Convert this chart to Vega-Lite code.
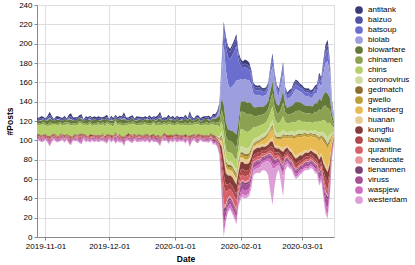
{
"$schema":"https://vega.github.io/schema/vega-lite/v6.json",
"width":297,"height":232,
"padding":{"left":5,"top":1,"right":2,"bottom":0},
"data":{"values":[
{"date":"2019-10-28","antitank":2,"baizuo":1,"batsoup":0,"biolab":0,"biowarfare":2,"chinamen":2,"chins":10,"coronovirus":0,"gedmatch":1,"gweilo":0,"heinsberg":0,"huanan":0,"kungflu":0,"laowai":1,"qurantine":1,"reeducate":0,"tienanmen":1,"viruss":0,"waspjew":1,"westerdam":1},
{"date":"2019-10-29","antitank":1,"baizuo":2,"batsoup":0,"biolab":0,"biowarfare":3,"chinamen":2,"chins":9,"coronovirus":0,"gedmatch":0,"gweilo":0,"heinsberg":0,"huanan":0,"kungflu":1,"laowai":1,"qurantine":1,"reeducate":0,"tienanmen":0,"viruss":1,"waspjew":2,"westerdam":1},
{"date":"2019-10-30","antitank":2,"baizuo":2,"batsoup":0,"biolab":1,"biowarfare":3,"chinamen":1,"chins":11,"coronovirus":0,"gedmatch":1,"gweilo":0,"heinsberg":0,"huanan":0,"kungflu":0,"laowai":1,"qurantine":2,"reeducate":0,"tienanmen":1,"viruss":0,"waspjew":1,"westerdam":1},
{"date":"2019-10-31","antitank":2,"baizuo":1,"batsoup":0,"biolab":0,"biowarfare":2,"chinamen":3,"chins":10,"coronovirus":0,"gedmatch":0,"gweilo":1,"heinsberg":0,"huanan":0,"kungflu":1,"laowai":0,"qurantine":1,"reeducate":1,"tienanmen":0,"viruss":1,"waspjew":2,"westerdam":1},
{"date":"2019-11-01","antitank":1,"baizuo":1,"batsoup":0,"biolab":0,"biowarfare":3,"chinamen":2,"chins":9,"coronovirus":0,"gedmatch":1,"gweilo":0,"heinsberg":0,"huanan":0,"kungflu":0,"laowai":1,"qurantine":1,"reeducate":0,"tienanmen":1,"viruss":0,"waspjew":1,"westerdam":1},
{"date":"2019-11-02","antitank":2,"baizuo":2,"batsoup":0,"biolab":1,"biowarfare":4,"chinamen":2,"chins":10,"coronovirus":0,"gedmatch":0,"gweilo":0,"heinsberg":0,"huanan":0,"kungflu":1,"laowai":1,"qurantine":1,"reeducate":0,"tienanmen":0,"viruss":1,"waspjew":2,"westerdam":1},
{"date":"2019-11-03","antitank":3,"baizuo":3,"batsoup":0,"biolab":1,"biowarfare":4,"chinamen":3,"chins":11,"coronovirus":0,"gedmatch":1,"gweilo":0,"heinsberg":0,"huanan":0,"kungflu":1,"laowai":1,"qurantine":2,"reeducate":0,"tienanmen":1,"viruss":1,"waspjew":3,"westerdam":1},
{"date":"2019-11-04","antitank":2,"baizuo":2,"batsoup":0,"biolab":0,"biowarfare":3,"chinamen":2,"chins":10,"coronovirus":0,"gedmatch":1,"gweilo":0,"heinsberg":0,"huanan":0,"kungflu":0,"laowai":1,"qurantine":1,"reeducate":1,"tienanmen":0,"viruss":1,"waspjew":2,"westerdam":1},
{"date":"2019-11-05","antitank":1,"baizuo":1,"batsoup":0,"biolab":0,"biowarfare":2,"chinamen":2,"chins":9,"coronovirus":0,"gedmatch":0,"gweilo":0,"heinsberg":0,"huanan":0,"kungflu":1,"laowai":1,"qurantine":1,"reeducate":0,"tienanmen":1,"viruss":0,"waspjew":1,"westerdam":1},
{"date":"2019-11-06","antitank":2,"baizuo":2,"batsoup":0,"biolab":0,"biowarfare":3,"chinamen":2,"chins":10,"coronovirus":0,"gedmatch":1,"gweilo":1,"heinsberg":0,"huanan":0,"kungflu":0,"laowai":1,"qurantine":1,"reeducate":0,"tienanmen":0,"viruss":1,"waspjew":2,"westerdam":1},
{"date":"2019-11-07","antitank":2,"baizuo":1,"batsoup":0,"biolab":1,"biowarfare":3,"chinamen":3,"chins":11,"coronovirus":0,"gedmatch":0,"gweilo":0,"heinsberg":0,"huanan":0,"kungflu":1,"laowai":1,"qurantine":1,"reeducate":0,"tienanmen":1,"viruss":0,"waspjew":1,"westerdam":1},
{"date":"2019-11-08","antitank":1,"baizuo":2,"batsoup":0,"biolab":0,"biowarfare":2,"chinamen":2,"chins":10,"coronovirus":0,"gedmatch":1,"gweilo":0,"heinsberg":0,"huanan":0,"kungflu":0,"laowai":1,"qurantine":2,"reeducate":0,"tienanmen":0,"viruss":1,"waspjew":2,"westerdam":1},
{"date":"2019-11-09","antitank":2,"baizuo":1,"batsoup":0,"biolab":0,"biowarfare":3,"chinamen":2,"chins":9,"coronovirus":0,"gedmatch":0,"gweilo":0,"heinsberg":0,"huanan":0,"kungflu":1,"laowai":0,"qurantine":1,"reeducate":0,"tienanmen":1,"viruss":1,"waspjew":1,"westerdam":1},
{"date":"2019-11-10","antitank":2,"baizuo":2,"batsoup":0,"biolab":0,"biowarfare":3,"chinamen":3,"chins":10,"coronovirus":0,"gedmatch":1,"gweilo":0,"heinsberg":0,"huanan":0,"kungflu":1,"laowai":1,"qurantine":1,"reeducate":1,"tienanmen":0,"viruss":0,"waspjew":2,"westerdam":1},
{"date":"2019-11-11","antitank":1,"baizuo":1,"batsoup":0,"biolab":0,"biowarfare":2,"chinamen":2,"chins":10,"coronovirus":0,"gedmatch":0,"gweilo":0,"heinsberg":0,"huanan":0,"kungflu":0,"laowai":1,"qurantine":1,"reeducate":0,"tienanmen":1,"viruss":1,"waspjew":1,"westerdam":1},
{"date":"2019-11-12","antitank":2,"baizuo":2,"batsoup":0,"biolab":1,"biowarfare":3,"chinamen":2,"chins":11,"coronovirus":0,"gedmatch":1,"gweilo":0,"heinsberg":0,"huanan":0,"kungflu":1,"laowai":1,"qurantine":2,"reeducate":0,"tienanmen":0,"viruss":1,"waspjew":2,"westerdam":1},
{"date":"2019-11-13","antitank":3,"baizuo":3,"batsoup":0,"biolab":1,"biowarfare":4,"chinamen":2,"chins":11,"coronovirus":0,"gedmatch":1,"gweilo":0,"heinsberg":0,"huanan":0,"kungflu":1,"laowai":1,"qurantine":1,"reeducate":0,"tienanmen":1,"viruss":1,"waspjew":2,"westerdam":1},
{"date":"2019-11-14","antitank":2,"baizuo":1,"batsoup":0,"biolab":0,"biowarfare":3,"chinamen":2,"chins":10,"coronovirus":0,"gedmatch":0,"gweilo":1,"heinsberg":0,"huanan":0,"kungflu":0,"laowai":1,"qurantine":1,"reeducate":0,"tienanmen":0,"viruss":1,"waspjew":1,"westerdam":1},
{"date":"2019-11-15","antitank":2,"baizuo":2,"batsoup":0,"biolab":0,"biowarfare":2,"chinamen":2,"chins":9,"coronovirus":0,"gedmatch":1,"gweilo":0,"heinsberg":0,"huanan":0,"kungflu":1,"laowai":1,"qurantine":1,"reeducate":0,"tienanmen":1,"viruss":0,"waspjew":2,"westerdam":1},
{"date":"2019-11-16","antitank":1,"baizuo":2,"batsoup":0,"biolab":0,"biowarfare":3,"chinamen":3,"chins":10,"coronovirus":0,"gedmatch":0,"gweilo":0,"heinsberg":0,"huanan":0,"kungflu":0,"laowai":1,"qurantine":1,"reeducate":1,"tienanmen":0,"viruss":1,"waspjew":1,"westerdam":1},
{"date":"2019-11-17","antitank":2,"baizuo":1,"batsoup":0,"biolab":0,"biowarfare":3,"chinamen":2,"chins":11,"coronovirus":0,"gedmatch":1,"gweilo":0,"heinsberg":0,"huanan":0,"kungflu":1,"laowai":1,"qurantine":2,"reeducate":0,"tienanmen":1,"viruss":1,"waspjew":2,"westerdam":1},
{"date":"2019-11-18","antitank":2,"baizuo":2,"batsoup":0,"biolab":1,"biowarfare":3,"chinamen":2,"chins":10,"coronovirus":0,"gedmatch":1,"gweilo":0,"heinsberg":0,"huanan":0,"kungflu":1,"laowai":1,"qurantine":1,"reeducate":0,"tienanmen":1,"viruss":1,"waspjew":4,"westerdam":1},
{"date":"2019-11-19","antitank":1,"baizuo":1,"batsoup":0,"biolab":0,"biowarfare":2,"chinamen":2,"chins":9,"coronovirus":0,"gedmatch":0,"gweilo":0,"heinsberg":0,"huanan":0,"kungflu":0,"laowai":1,"qurantine":1,"reeducate":0,"tienanmen":0,"viruss":1,"waspjew":1,"westerdam":1},
{"date":"2019-11-20","antitank":2,"baizuo":2,"batsoup":0,"biolab":0,"biowarfare":3,"chinamen":2,"chins":10,"coronovirus":0,"gedmatch":1,"gweilo":0,"heinsberg":0,"huanan":0,"kungflu":1,"laowai":1,"qurantine":1,"reeducate":0,"tienanmen":1,"viruss":0,"waspjew":2,"westerdam":1},
{"date":"2019-11-21","antitank":2,"baizuo":1,"batsoup":0,"biolab":0,"biowarfare":3,"chinamen":3,"chins":10,"coronovirus":0,"gedmatch":0,"gweilo":1,"heinsberg":0,"huanan":0,"kungflu":0,"laowai":1,"qurantine":1,"reeducate":0,"tienanmen":0,"viruss":1,"waspjew":1,"westerdam":1},
{"date":"2019-11-22","antitank":1,"baizuo":2,"batsoup":0,"biolab":1,"biowarfare":2,"chinamen":2,"chins":11,"coronovirus":0,"gedmatch":1,"gweilo":0,"heinsberg":0,"huanan":0,"kungflu":1,"laowai":1,"qurantine":2,"reeducate":0,"tienanmen":1,"viruss":0,"waspjew":2,"westerdam":1},
{"date":"2019-11-23","antitank":2,"baizuo":2,"batsoup":0,"biolab":0,"biowarfare":3,"chinamen":2,"chins":9,"coronovirus":0,"gedmatch":0,"gweilo":0,"heinsberg":0,"huanan":0,"kungflu":1,"laowai":0,"qurantine":1,"reeducate":1,"tienanmen":0,"viruss":1,"waspjew":1,"westerdam":1},
{"date":"2019-11-24","antitank":2,"baizuo":1,"batsoup":0,"biolab":0,"biowarfare":4,"chinamen":2,"chins":10,"coronovirus":0,"gedmatch":1,"gweilo":0,"heinsberg":0,"huanan":0,"kungflu":0,"laowai":1,"qurantine":1,"reeducate":0,"tienanmen":1,"viruss":1,"waspjew":2,"westerdam":1},
{"date":"2019-11-25","antitank":1,"baizuo":2,"batsoup":0,"biolab":0,"biowarfare":3,"chinamen":3,"chins":10,"coronovirus":0,"gedmatch":0,"gweilo":0,"heinsberg":0,"huanan":0,"kungflu":1,"laowai":1,"qurantine":1,"reeducate":0,"tienanmen":0,"viruss":1,"waspjew":1,"westerdam":1},
{"date":"2019-11-26","antitank":2,"baizuo":2,"batsoup":0,"biolab":0,"biowarfare":2,"chinamen":2,"chins":11,"coronovirus":0,"gedmatch":1,"gweilo":0,"heinsberg":0,"huanan":0,"kungflu":0,"laowai":1,"qurantine":2,"reeducate":0,"tienanmen":1,"viruss":0,"waspjew":2,"westerdam":1},
{"date":"2019-11-27","antitank":2,"baizuo":1,"batsoup":0,"biolab":1,"biowarfare":3,"chinamen":2,"chins":10,"coronovirus":0,"gedmatch":0,"gweilo":0,"heinsberg":0,"huanan":0,"kungflu":1,"laowai":1,"qurantine":1,"reeducate":0,"tienanmen":0,"viruss":1,"waspjew":1,"westerdam":1},
{"date":"2019-11-28","antitank":1,"baizuo":1,"batsoup":0,"biolab":0,"biowarfare":3,"chinamen":2,"chins":9,"coronovirus":0,"gedmatch":1,"gweilo":1,"heinsberg":0,"huanan":0,"kungflu":0,"laowai":1,"qurantine":1,"reeducate":1,"tienanmen":1,"viruss":0,"waspjew":2,"westerdam":1},
{"date":"2019-11-29","antitank":2,"baizuo":2,"batsoup":0,"biolab":0,"biowarfare":4,"chinamen":3,"chins":10,"coronovirus":0,"gedmatch":0,"gweilo":0,"heinsberg":0,"huanan":0,"kungflu":1,"laowai":1,"qurantine":1,"reeducate":0,"tienanmen":0,"viruss":1,"waspjew":1,"westerdam":1},
{"date":"2019-11-30","antitank":2,"baizuo":2,"batsoup":0,"biolab":0,"biowarfare":3,"chinamen":2,"chins":11,"coronovirus":0,"gedmatch":1,"gweilo":0,"heinsberg":0,"huanan":0,"kungflu":1,"laowai":1,"qurantine":2,"reeducate":0,"tienanmen":1,"viruss":1,"waspjew":2,"westerdam":1},
{"date":"2019-12-01","antitank":1,"baizuo":1,"batsoup":0,"biolab":0,"biowarfare":2,"chinamen":2,"chins":10,"coronovirus":0,"gedmatch":0,"gweilo":0,"heinsberg":0,"huanan":0,"kungflu":0,"laowai":1,"qurantine":1,"reeducate":0,"tienanmen":0,"viruss":1,"waspjew":1,"westerdam":1},
{"date":"2019-12-02","antitank":2,"baizuo":2,"batsoup":0,"biolab":1,"biowarfare":3,"chinamen":2,"chins":10,"coronovirus":0,"gedmatch":1,"gweilo":0,"heinsberg":0,"huanan":0,"kungflu":1,"laowai":1,"qurantine":1,"reeducate":0,"tienanmen":1,"viruss":0,"waspjew":2,"westerdam":1},
{"date":"2019-12-03","antitank":2,"baizuo":1,"batsoup":0,"biolab":0,"biowarfare":3,"chinamen":3,"chins":9,"coronovirus":0,"gedmatch":0,"gweilo":0,"heinsberg":0,"huanan":0,"kungflu":1,"laowai":0,"qurantine":1,"reeducate":0,"tienanmen":0,"viruss":1,"waspjew":1,"westerdam":1},
{"date":"2019-12-04","antitank":1,"baizuo":2,"batsoup":0,"biolab":0,"biowarfare":2,"chinamen":2,"chins":11,"coronovirus":0,"gedmatch":1,"gweilo":0,"heinsberg":0,"huanan":0,"kungflu":0,"laowai":1,"qurantine":2,"reeducate":1,"tienanmen":1,"viruss":1,"waspjew":4,"westerdam":1},
{"date":"2019-12-05","antitank":2,"baizuo":2,"batsoup":0,"biolab":0,"biowarfare":3,"chinamen":2,"chins":10,"coronovirus":0,"gedmatch":0,"gweilo":1,"heinsberg":0,"huanan":0,"kungflu":1,"laowai":1,"qurantine":1,"reeducate":0,"tienanmen":0,"viruss":0,"waspjew":1,"westerdam":1},
{"date":"2019-12-06","antitank":2,"baizuo":1,"batsoup":0,"biolab":0,"biowarfare":4,"chinamen":2,"chins":10,"coronovirus":0,"gedmatch":1,"gweilo":0,"heinsberg":0,"huanan":0,"kungflu":0,"laowai":1,"qurantine":1,"reeducate":0,"tienanmen":1,"viruss":1,"waspjew":3,"westerdam":1},
{"date":"2019-12-07","antitank":1,"baizuo":2,"batsoup":0,"biolab":1,"biowarfare":3,"chinamen":3,"chins":11,"coronovirus":0,"gedmatch":0,"gweilo":0,"heinsberg":0,"huanan":0,"kungflu":1,"laowai":1,"qurantine":1,"reeducate":0,"tienanmen":0,"viruss":1,"waspjew":1,"westerdam":1},
{"date":"2019-12-08","antitank":3,"baizuo":3,"batsoup":0,"biolab":1,"biowarfare":4,"chinamen":3,"chins":11,"coronovirus":0,"gedmatch":1,"gweilo":0,"heinsberg":0,"huanan":0,"kungflu":1,"laowai":1,"qurantine":2,"reeducate":0,"tienanmen":1,"viruss":1,"waspjew":2,"westerdam":1},
{"date":"2019-12-09","antitank":2,"baizuo":1,"batsoup":0,"biolab":0,"biowarfare":3,"chinamen":2,"chins":10,"coronovirus":0,"gedmatch":0,"gweilo":0,"heinsberg":0,"huanan":0,"kungflu":0,"laowai":1,"qurantine":1,"reeducate":0,"tienanmen":1,"viruss":0,"waspjew":2,"westerdam":1},
{"date":"2019-12-10","antitank":1,"baizuo":2,"batsoup":0,"biolab":0,"biowarfare":2,"chinamen":2,"chins":9,"coronovirus":0,"gedmatch":1,"gweilo":0,"heinsberg":0,"huanan":0,"kungflu":1,"laowai":1,"qurantine":1,"reeducate":1,"tienanmen":0,"viruss":1,"waspjew":1,"westerdam":1},
{"date":"2019-12-11","antitank":2,"baizuo":2,"batsoup":0,"biolab":0,"biowarfare":3,"chinamen":2,"chins":10,"coronovirus":0,"gedmatch":0,"gweilo":0,"heinsberg":0,"huanan":0,"kungflu":1,"laowai":1,"qurantine":1,"reeducate":0,"tienanmen":1,"viruss":1,"waspjew":2,"westerdam":1},
{"date":"2019-12-12","antitank":2,"baizuo":1,"batsoup":0,"biolab":0,"biowarfare":3,"chinamen":3,"chins":11,"coronovirus":0,"gedmatch":1,"gweilo":1,"heinsberg":0,"huanan":0,"kungflu":0,"laowai":1,"qurantine":2,"reeducate":0,"tienanmen":0,"viruss":1,"waspjew":2,"westerdam":1},
{"date":"2019-12-13","antitank":1,"baizuo":1,"batsoup":0,"biolab":0,"biowarfare":2,"chinamen":2,"chins":10,"coronovirus":0,"gedmatch":0,"gweilo":0,"heinsberg":0,"huanan":0,"kungflu":1,"laowai":1,"qurantine":1,"reeducate":0,"tienanmen":1,"viruss":0,"waspjew":1,"westerdam":1},
{"date":"2019-12-14","antitank":2,"baizuo":2,"batsoup":0,"biolab":1,"biowarfare":3,"chinamen":2,"chins":10,"coronovirus":0,"gedmatch":1,"gweilo":0,"heinsberg":0,"huanan":0,"kungflu":0,"laowai":1,"qurantine":1,"reeducate":0,"tienanmen":0,"viruss":1,"waspjew":2,"westerdam":1},
{"date":"2019-12-15","antitank":2,"baizuo":1,"batsoup":0,"biolab":0,"biowarfare":4,"chinamen":2,"chins":9,"coronovirus":0,"gedmatch":0,"gweilo":0,"heinsberg":0,"huanan":0,"kungflu":1,"laowai":1,"qurantine":1,"reeducate":1,"tienanmen":1,"viruss":1,"waspjew":1,"westerdam":1},
{"date":"2019-12-16","antitank":1,"baizuo":2,"batsoup":0,"biolab":0,"biowarfare":3,"chinamen":3,"chins":10,"coronovirus":0,"gedmatch":1,"gweilo":0,"heinsberg":0,"huanan":0,"kungflu":1,"laowai":0,"qurantine":1,"reeducate":0,"tienanmen":0,"viruss":1,"waspjew":2,"westerdam":1},
{"date":"2019-12-17","antitank":2,"baizuo":2,"batsoup":0,"biolab":0,"biowarfare":2,"chinamen":2,"chins":11,"coronovirus":0,"gedmatch":0,"gweilo":0,"heinsberg":0,"huanan":0,"kungflu":0,"laowai":1,"qurantine":2,"reeducate":0,"tienanmen":1,"viruss":0,"waspjew":1,"westerdam":1},
{"date":"2019-12-18","antitank":2,"baizuo":1,"batsoup":0,"biolab":0,"biowarfare":3,"chinamen":2,"chins":10,"coronovirus":0,"gedmatch":1,"gweilo":1,"heinsberg":0,"huanan":0,"kungflu":1,"laowai":1,"qurantine":1,"reeducate":0,"tienanmen":0,"viruss":1,"waspjew":2,"westerdam":1},
{"date":"2019-12-19","antitank":1,"baizuo":1,"batsoup":0,"biolab":1,"biowarfare":3,"chinamen":2,"chins":9,"coronovirus":0,"gedmatch":0,"gweilo":0,"heinsberg":0,"huanan":0,"kungflu":1,"laowai":1,"qurantine":1,"reeducate":0,"tienanmen":1,"viruss":1,"waspjew":1,"westerdam":1},
{"date":"2019-12-20","antitank":2,"baizuo":2,"batsoup":0,"biolab":0,"biowarfare":4,"chinamen":3,"chins":10,"coronovirus":0,"gedmatch":1,"gweilo":0,"heinsberg":0,"huanan":0,"kungflu":0,"laowai":1,"qurantine":1,"reeducate":1,"tienanmen":0,"viruss":1,"waspjew":2,"westerdam":1},
{"date":"2019-12-21","antitank":2,"baizuo":1,"batsoup":0,"biolab":0,"biowarfare":3,"chinamen":2,"chins":10,"coronovirus":0,"gedmatch":0,"gweilo":0,"heinsberg":0,"huanan":0,"kungflu":1,"laowai":1,"qurantine":1,"reeducate":0,"tienanmen":1,"viruss":0,"waspjew":1,"westerdam":1},
{"date":"2019-12-22","antitank":1,"baizuo":2,"batsoup":0,"biolab":0,"biowarfare":2,"chinamen":2,"chins":11,"coronovirus":0,"gedmatch":1,"gweilo":0,"heinsberg":0,"huanan":0,"kungflu":1,"laowai":1,"qurantine":2,"reeducate":0,"tienanmen":0,"viruss":1,"waspjew":2,"westerdam":1},
{"date":"2019-12-23","antitank":2,"baizuo":2,"batsoup":0,"biolab":1,"biowarfare":3,"chinamen":2,"chins":10,"coronovirus":0,"gedmatch":0,"gweilo":0,"heinsberg":0,"huanan":0,"kungflu":0,"laowai":1,"qurantine":1,"reeducate":0,"tienanmen":1,"viruss":1,"waspjew":1,"westerdam":1},
{"date":"2019-12-24","antitank":2,"baizuo":2,"batsoup":0,"biolab":0,"biowarfare":3,"chinamen":3,"chins":10,"coronovirus":0,"gedmatch":1,"gweilo":0,"heinsberg":0,"huanan":0,"kungflu":1,"laowai":1,"qurantine":1,"reeducate":0,"tienanmen":1,"viruss":1,"waspjew":2,"westerdam":1},
{"date":"2019-12-25","antitank":3,"baizuo":3,"batsoup":0,"biolab":1,"biowarfare":4,"chinamen":3,"chins":11,"coronovirus":0,"gedmatch":1,"gweilo":1,"heinsberg":0,"huanan":0,"kungflu":1,"laowai":1,"qurantine":2,"reeducate":0,"tienanmen":1,"viruss":1,"waspjew":2,"westerdam":1},
{"date":"2019-12-26","antitank":2,"baizuo":1,"batsoup":0,"biolab":0,"biowarfare":3,"chinamen":2,"chins":10,"coronovirus":0,"gedmatch":0,"gweilo":0,"heinsberg":0,"huanan":0,"kungflu":0,"laowai":1,"qurantine":1,"reeducate":0,"tienanmen":0,"viruss":1,"waspjew":1,"westerdam":1},
{"date":"2019-12-27","antitank":1,"baizuo":2,"batsoup":0,"biolab":0,"biowarfare":2,"chinamen":2,"chins":9,"coronovirus":0,"gedmatch":1,"gweilo":0,"heinsberg":0,"huanan":0,"kungflu":1,"laowai":1,"qurantine":1,"reeducate":1,"tienanmen":1,"viruss":0,"waspjew":2,"westerdam":1},
{"date":"2019-12-28","antitank":2,"baizuo":1,"batsoup":0,"biolab":0,"biowarfare":3,"chinamen":2,"chins":10,"coronovirus":0,"gedmatch":0,"gweilo":0,"heinsberg":0,"huanan":0,"kungflu":1,"laowai":1,"qurantine":1,"reeducate":0,"tienanmen":0,"viruss":1,"waspjew":1,"westerdam":1},
{"date":"2019-12-29","antitank":2,"baizuo":2,"batsoup":0,"biolab":0,"biowarfare":3,"chinamen":3,"chins":11,"coronovirus":0,"gedmatch":1,"gweilo":0,"heinsberg":0,"huanan":0,"kungflu":0,"laowai":1,"qurantine":2,"reeducate":0,"tienanmen":1,"viruss":1,"waspjew":2,"westerdam":1},
{"date":"2019-12-30","antitank":1,"baizuo":1,"batsoup":0,"biolab":1,"biowarfare":2,"chinamen":2,"chins":10,"coronovirus":0,"gedmatch":0,"gweilo":1,"heinsberg":0,"huanan":0,"kungflu":1,"laowai":1,"qurantine":1,"reeducate":0,"tienanmen":0,"viruss":1,"waspjew":1,"westerdam":1},
{"date":"2019-12-31","antitank":2,"baizuo":2,"batsoup":0,"biolab":0,"biowarfare":4,"chinamen":2,"chins":10,"coronovirus":0,"gedmatch":1,"gweilo":0,"heinsberg":0,"huanan":0,"kungflu":1,"laowai":1,"qurantine":1,"reeducate":0,"tienanmen":1,"viruss":0,"waspjew":2,"westerdam":1},
{"date":"2020-01-01","antitank":2,"baizuo":1,"batsoup":0,"biolab":0,"biowarfare":3,"chinamen":2,"chins":9,"coronovirus":0,"gedmatch":0,"gweilo":0,"heinsberg":0,"huanan":0,"kungflu":0,"laowai":1,"qurantine":1,"reeducate":1,"tienanmen":0,"viruss":1,"waspjew":1,"westerdam":1},
{"date":"2020-01-02","antitank":1,"baizuo":2,"batsoup":0,"biolab":0,"biowarfare":3,"chinamen":3,"chins":10,"coronovirus":0,"gedmatch":1,"gweilo":0,"heinsberg":0,"huanan":0,"kungflu":1,"laowai":1,"qurantine":1,"reeducate":0,"tienanmen":1,"viruss":1,"waspjew":2,"westerdam":1},
{"date":"2020-01-03","antitank":2,"baizuo":2,"batsoup":0,"biolab":0,"biowarfare":2,"chinamen":2,"chins":11,"coronovirus":0,"gedmatch":0,"gweilo":0,"heinsberg":0,"huanan":0,"kungflu":1,"laowai":0,"qurantine":2,"reeducate":0,"tienanmen":0,"viruss":1,"waspjew":1,"westerdam":1},
{"date":"2020-01-04","antitank":2,"baizuo":1,"batsoup":0,"biolab":1,"biowarfare":3,"chinamen":2,"chins":10,"coronovirus":0,"gedmatch":1,"gweilo":0,"heinsberg":0,"huanan":0,"kungflu":0,"laowai":1,"qurantine":1,"reeducate":0,"tienanmen":1,"viruss":0,"waspjew":2,"westerdam":1},
{"date":"2020-01-05","antitank":1,"baizuo":2,"batsoup":0,"biolab":0,"biowarfare":3,"chinamen":2,"chins":10,"coronovirus":0,"gedmatch":0,"gweilo":1,"heinsberg":0,"huanan":0,"kungflu":1,"laowai":1,"qurantine":1,"reeducate":0,"tienanmen":0,"viruss":1,"waspjew":1,"westerdam":1},
{"date":"2020-01-06","antitank":2,"baizuo":2,"batsoup":0,"biolab":0,"biowarfare":4,"chinamen":3,"chins":9,"coronovirus":0,"gedmatch":1,"gweilo":0,"heinsberg":0,"huanan":0,"kungflu":1,"laowai":1,"qurantine":1,"reeducate":1,"tienanmen":1,"viruss":1,"waspjew":2,"westerdam":1},
{"date":"2020-01-07","antitank":2,"baizuo":1,"batsoup":0,"biolab":0,"biowarfare":3,"chinamen":2,"chins":10,"coronovirus":0,"gedmatch":0,"gweilo":0,"heinsberg":0,"huanan":0,"kungflu":0,"laowai":1,"qurantine":1,"reeducate":0,"tienanmen":0,"viruss":1,"waspjew":1,"westerdam":1},
{"date":"2020-01-08","antitank":3,"baizuo":3,"batsoup":0,"biolab":1,"biowarfare":4,"chinamen":3,"chins":11,"coronovirus":0,"gedmatch":1,"gweilo":0,"heinsberg":0,"huanan":0,"kungflu":1,"laowai":1,"qurantine":2,"reeducate":0,"tienanmen":1,"viruss":1,"waspjew":4,"westerdam":1},
{"date":"2020-01-09","antitank":2,"baizuo":2,"batsoup":0,"biolab":0,"biowarfare":3,"chinamen":2,"chins":10,"coronovirus":0,"gedmatch":0,"gweilo":0,"heinsberg":0,"huanan":0,"kungflu":1,"laowai":1,"qurantine":1,"reeducate":0,"tienanmen":0,"viruss":1,"waspjew":2,"westerdam":1},
{"date":"2020-01-10","antitank":1,"baizuo":1,"batsoup":0,"biolab":0,"biowarfare":2,"chinamen":2,"chins":10,"coronovirus":0,"gedmatch":1,"gweilo":0,"heinsberg":0,"huanan":0,"kungflu":0,"laowai":1,"qurantine":1,"reeducate":0,"tienanmen":1,"viruss":0,"waspjew":1,"westerdam":1},
{"date":"2020-01-11","antitank":2,"baizuo":2,"batsoup":0,"biolab":0,"biowarfare":3,"chinamen":2,"chins":11,"coronovirus":0,"gedmatch":0,"gweilo":1,"heinsberg":0,"huanan":0,"kungflu":1,"laowai":1,"qurantine":1,"reeducate":0,"tienanmen":0,"viruss":1,"waspjew":2,"westerdam":1},
{"date":"2020-01-12","antitank":2,"baizuo":1,"batsoup":0,"biolab":0,"biowarfare":3,"chinamen":3,"chins":10,"coronovirus":0,"gedmatch":1,"gweilo":0,"heinsberg":0,"huanan":0,"kungflu":1,"laowai":1,"qurantine":2,"reeducate":1,"tienanmen":1,"viruss":1,"waspjew":1,"westerdam":1},
{"date":"2020-01-13","antitank":1,"baizuo":2,"batsoup":0,"biolab":1,"biowarfare":2,"chinamen":2,"chins":9,"coronovirus":0,"gedmatch":0,"gweilo":0,"heinsberg":0,"huanan":0,"kungflu":0,"laowai":1,"qurantine":1,"reeducate":0,"tienanmen":0,"viruss":1,"waspjew":2,"westerdam":1},
{"date":"2020-01-14","antitank":2,"baizuo":2,"batsoup":0,"biolab":0,"biowarfare":3,"chinamen":2,"chins":10,"coronovirus":0,"gedmatch":1,"gweilo":0,"heinsberg":0,"huanan":0,"kungflu":1,"laowai":1,"qurantine":1,"reeducate":0,"tienanmen":1,"viruss":0,"waspjew":1,"westerdam":1},
{"date":"2020-01-15","antitank":2,"baizuo":1,"batsoup":0,"biolab":0,"biowarfare":4,"chinamen":2,"chins":11,"coronovirus":0,"gedmatch":0,"gweilo":0,"heinsberg":0,"huanan":0,"kungflu":1,"laowai":1,"qurantine":1,"reeducate":0,"tienanmen":0,"viruss":1,"waspjew":2,"westerdam":1},
{"date":"2020-01-16","antitank":1,"baizuo":2,"batsoup":0,"biolab":0,"biowarfare":3,"chinamen":3,"chins":10,"coronovirus":0,"gedmatch":1,"gweilo":0,"heinsberg":0,"huanan":0,"kungflu":0,"laowai":1,"qurantine":2,"reeducate":0,"tienanmen":1,"viruss":1,"waspjew":1,"westerdam":1},
{"date":"2020-01-17","antitank":2,"baizuo":2,"batsoup":0,"biolab":1,"biowarfare":3,"chinamen":2,"chins":10,"coronovirus":0,"gedmatch":0,"gweilo":1,"heinsberg":0,"huanan":0,"kungflu":1,"laowai":1,"qurantine":1,"reeducate":0,"tienanmen":0,"viruss":1,"waspjew":2,"westerdam":1},
{"date":"2020-01-18","antitank":2,"baizuo":1,"batsoup":0,"biolab":0,"biowarfare":2,"chinamen":2,"chins":9,"coronovirus":0,"gedmatch":1,"gweilo":0,"heinsberg":0,"huanan":0,"kungflu":1,"laowai":1,"qurantine":1,"reeducate":1,"tienanmen":1,"viruss":0,"waspjew":1,"westerdam":1},
{"date":"2020-01-19","antitank":2,"baizuo":2,"batsoup":0,"biolab":1,"biowarfare":3,"chinamen":3,"chins":11,"coronovirus":0,"gedmatch":1,"gweilo":0,"heinsberg":0,"huanan":0,"kungflu":1,"laowai":1,"qurantine":2,"reeducate":0,"tienanmen":1,"viruss":1,"waspjew":2,"westerdam":1},
{"date":"2020-01-20","antitank":2,"baizuo":2,"batsoup":0,"biolab":1,"biowarfare":4,"chinamen":3,"chins":10,"coronovirus":0,"gedmatch":1,"gweilo":0,"heinsberg":0,"huanan":0,"kungflu":1,"laowai":1,"qurantine":2,"reeducate":0,"tienanmen":1,"viruss":1,"waspjew":1,"westerdam":1},
{"date":"2020-01-21","antitank":2,"baizuo":2,"batsoup":1,"biolab":2,"biowarfare":5,"chinamen":3,"chins":11,"coronovirus":1,"gedmatch":1,"gweilo":0,"heinsberg":0,"huanan":1,"kungflu":1,"laowai":1,"qurantine":2,"reeducate":0,"tienanmen":1,"viruss":1,"waspjew":2,"westerdam":1},
{"date":"2020-01-22","antitank":2,"baizuo":3,"batsoup":2,"biolab":6,"biowarfare":7,"chinamen":5,"chins":10,"coronovirus":2,"gedmatch":1,"gweilo":1,"heinsberg":0,"huanan":2,"kungflu":2,"laowai":2,"qurantine":3,"reeducate":1,"tienanmen":1,"viruss":2,"waspjew":1,"westerdam":1},
{"date":"2020-01-23","antitank":2,"baizuo":5,"batsoup":8,"biolab":20,"biowarfare":12,"chinamen":12,"chins":10,"coronovirus":4,"gedmatch":2,"gweilo":3,"heinsberg":1,"huanan":6,"kungflu":10,"laowai":8,"qurantine":12,"reeducate":3,"tienanmen":2,"viruss":7,"waspjew":5,"westerdam":2},
{"date":"2020-01-24","antitank":2,"baizuo":6,"batsoup":16,"biolab":62,"biowarfare":14,"chinamen":14,"chins":10,"coronovirus":4,"gedmatch":2,"gweilo":4,"heinsberg":1,"huanan":8,"kungflu":15,"laowai":12,"qurantine":20,"reeducate":4,"tienanmen":4,"viruss":12,"waspjew":10,"westerdam":3},
{"date":"2020-01-25","antitank":3,"baizuo":8,"batsoup":24,"biolab":54,"biowarfare":14,"chinamen":14,"chins":9,"coronovirus":4,"gedmatch":2,"gweilo":3,"heinsberg":1,"huanan":6,"kungflu":12,"laowai":8,"qurantine":12,"reeducate":3,"tienanmen":3,"viruss":6,"waspjew":5,"westerdam":2},
{"date":"2020-01-26","antitank":3,"baizuo":8,"batsoup":28,"biolab":47,"biowarfare":12,"chinamen":12,"chins":9,"coronovirus":4,"gedmatch":2,"gweilo":3,"heinsberg":1,"huanan":5,"kungflu":9,"laowai":6,"qurantine":8,"reeducate":2,"tienanmen":2,"viruss":5,"waspjew":4,"westerdam":2},
{"date":"2020-01-27","antitank":3,"baizuo":8,"batsoup":30,"biolab":43,"biowarfare":11,"chinamen":12,"chins":9,"coronovirus":4,"gedmatch":2,"gweilo":3,"heinsberg":1,"huanan":5,"kungflu":8,"laowai":6,"qurantine":7,"reeducate":2,"tienanmen":2,"viruss":4,"waspjew":4,"westerdam":2},
{"date":"2020-01-28","antitank":3,"baizuo":8,"batsoup":32,"biolab":46,"biowarfare":12,"chinamen":12,"chins":9,"coronovirus":4,"gedmatch":2,"gweilo":3,"heinsberg":1,"huanan":5,"kungflu":9,"laowai":6,"qurantine":8,"reeducate":2,"tienanmen":2,"viruss":5,"waspjew":4,"westerdam":2},
{"date":"2020-01-29","antitank":3,"baizuo":9,"batsoup":34,"biolab":50,"biowarfare":13,"chinamen":13,"chins":9,"coronovirus":4,"gedmatch":2,"gweilo":3,"heinsberg":1,"huanan":5,"kungflu":9,"laowai":7,"qurantine":8,"reeducate":2,"tienanmen":2,"viruss":5,"waspjew":4,"westerdam":2},
{"date":"2020-01-30","antitank":3,"baizuo":9,"batsoup":36,"biolab":56,"biowarfare":14,"chinamen":13,"chins":10,"coronovirus":4,"gedmatch":2,"gweilo":3,"heinsberg":1,"huanan":5,"kungflu":10,"laowai":7,"qurantine":8,"reeducate":2,"tienanmen":2,"viruss":5,"waspjew":5,"westerdam":2},
{"date":"2020-01-31","antitank":3,"baizuo":6,"batsoup":20,"biolab":43,"biowarfare":12,"chinamen":14,"chins":10,"coronovirus":5,"gedmatch":2,"gweilo":3,"heinsberg":1,"huanan":5,"kungflu":8,"laowai":6,"qurantine":6,"reeducate":2,"tienanmen":2,"viruss":5,"waspjew":4,"westerdam":2},
{"date":"2020-02-01","antitank":3,"baizuo":4,"batsoup":14,"biolab":24,"biowarfare":10,"chinamen":18,"chins":18,"coronovirus":6,"gedmatch":2,"gweilo":3,"heinsberg":1,"huanan":4,"kungflu":8,"laowai":6,"qurantine":6,"reeducate":2,"tienanmen":2,"viruss":7,"waspjew":5,"westerdam":3},
{"date":"2020-02-02","antitank":3,"baizuo":4,"batsoup":12,"biolab":22,"biowarfare":11,"chinamen":18,"chins":18,"coronovirus":6,"gedmatch":2,"gweilo":3,"heinsberg":1,"huanan":4,"kungflu":7,"laowai":6,"qurantine":5,"reeducate":2,"tienanmen":2,"viruss":6,"waspjew":5,"westerdam":3},
{"date":"2020-02-03","antitank":4,"baizuo":4,"batsoup":12,"biolab":23,"biowarfare":12,"chinamen":19,"chins":18,"coronovirus":6,"gedmatch":2,"gweilo":3,"heinsberg":1,"huanan":4,"kungflu":7,"laowai":6,"qurantine":5,"reeducate":2,"tienanmen":2,"viruss":6,"waspjew":5,"westerdam":3},
{"date":"2020-02-04","antitank":4,"baizuo":4,"batsoup":12,"biolab":24,"biowarfare":12,"chinamen":18,"chins":17,"coronovirus":6,"gedmatch":2,"gweilo":3,"heinsberg":1,"huanan":4,"kungflu":7,"laowai":5,"qurantine":5,"reeducate":2,"tienanmen":2,"viruss":6,"waspjew":5,"westerdam":3},
{"date":"2020-02-05","antitank":3,"baizuo":4,"batsoup":11,"biolab":23,"biowarfare":12,"chinamen":18,"chins":17,"coronovirus":6,"gedmatch":2,"gweilo":3,"heinsberg":1,"huanan":4,"kungflu":7,"laowai":5,"qurantine":5,"reeducate":2,"tienanmen":2,"viruss":6,"waspjew":4,"westerdam":3},
{"date":"2020-02-06","antitank":3,"baizuo":3,"batsoup":9,"biolab":20,"biowarfare":11,"chinamen":16,"chins":15,"coronovirus":5,"gedmatch":2,"gweilo":2,"heinsberg":1,"huanan":4,"kungflu":6,"laowai":5,"qurantine":4,"reeducate":2,"tienanmen":2,"viruss":5,"waspjew":4,"westerdam":4},
{"date":"2020-02-07","antitank":2,"baizuo":3,"batsoup":6,"biolab":14,"biowarfare":9,"chinamen":12,"chins":12,"coronovirus":5,"gedmatch":1,"gweilo":2,"heinsberg":1,"huanan":3,"kungflu":5,"laowai":4,"qurantine":3,"reeducate":1,"tienanmen":1,"viruss":4,"waspjew":3,"westerdam":5},
{"date":"2020-02-08","antitank":2,"baizuo":3,"batsoup":5,"biolab":13,"biowarfare":9,"chinamen":12,"chins":11,"coronovirus":4,"gedmatch":1,"gweilo":2,"heinsberg":1,"huanan":3,"kungflu":5,"laowai":4,"qurantine":3,"reeducate":1,"tienanmen":1,"viruss":4,"waspjew":3,"westerdam":4},
{"date":"2020-02-09","antitank":2,"baizuo":3,"batsoup":5,"biolab":12,"biowarfare":9,"chinamen":11,"chins":11,"coronovirus":4,"gedmatch":1,"gweilo":2,"heinsberg":1,"huanan":3,"kungflu":5,"laowai":4,"qurantine":3,"reeducate":1,"tienanmen":1,"viruss":4,"waspjew":3,"westerdam":5},
{"date":"2020-02-10","antitank":2,"baizuo":3,"batsoup":5,"biolab":12,"biowarfare":9,"chinamen":11,"chins":11,"coronovirus":4,"gedmatch":1,"gweilo":2,"heinsberg":2,"huanan":3,"kungflu":5,"laowai":4,"qurantine":3,"reeducate":1,"tienanmen":1,"viruss":3,"waspjew":3,"westerdam":6},
{"date":"2020-02-11","antitank":2,"baizuo":2,"batsoup":5,"biolab":11,"biowarfare":8,"chinamen":10,"chins":10,"coronovirus":4,"gedmatch":1,"gweilo":2,"heinsberg":3,"huanan":3,"kungflu":4,"laowai":3,"qurantine":3,"reeducate":1,"tienanmen":1,"viruss":3,"waspjew":3,"westerdam":7},
{"date":"2020-02-12","antitank":2,"baizuo":2,"batsoup":4,"biolab":11,"biowarfare":8,"chinamen":10,"chins":10,"coronovirus":4,"gedmatch":1,"gweilo":2,"heinsberg":4,"huanan":3,"kungflu":4,"laowai":3,"qurantine":2,"reeducate":1,"tienanmen":1,"viruss":3,"waspjew":2,"westerdam":8},
{"date":"2020-02-13","antitank":2,"baizuo":2,"batsoup":4,"biolab":10,"biowarfare":8,"chinamen":10,"chins":10,"coronovirus":4,"gedmatch":1,"gweilo":2,"heinsberg":5,"huanan":3,"kungflu":4,"laowai":3,"qurantine":2,"reeducate":1,"tienanmen":1,"viruss":3,"waspjew":2,"westerdam":10},
{"date":"2020-02-14","antitank":2,"baizuo":2,"batsoup":4,"biolab":11,"biowarfare":8,"chinamen":10,"chins":11,"coronovirus":4,"gedmatch":1,"gweilo":2,"heinsberg":6,"huanan":3,"kungflu":4,"laowai":3,"qurantine":2,"reeducate":1,"tienanmen":1,"viruss":3,"waspjew":3,"westerdam":15},
{"date":"2020-02-15","antitank":2,"baizuo":3,"batsoup":5,"biolab":16,"biowarfare":10,"chinamen":12,"chins":12,"coronovirus":5,"gedmatch":1,"gweilo":2,"heinsberg":7,"huanan":3,"kungflu":5,"laowai":4,"qurantine":3,"reeducate":1,"tienanmen":1,"viruss":4,"waspjew":4,"westerdam":30},
{"date":"2020-02-16","antitank":3,"baizuo":4,"batsoup":6,"biolab":16,"biowarfare":12,"chinamen":14,"chins":14,"coronovirus":5,"gedmatch":2,"gweilo":3,"heinsberg":8,"huanan":4,"kungflu":6,"laowai":5,"qurantine":4,"reeducate":1,"tienanmen":2,"viruss":5,"waspjew":5,"westerdam":38},
{"date":"2020-02-17","antitank":2,"baizuo":3,"batsoup":5,"biolab":16,"biowarfare":10,"chinamen":12,"chins":12,"coronovirus":5,"gedmatch":1,"gweilo":2,"heinsberg":7,"huanan":3,"kungflu":5,"laowai":4,"qurantine":3,"reeducate":1,"tienanmen":1,"viruss":4,"waspjew":4,"westerdam":18},
{"date":"2020-02-18","antitank":2,"baizuo":2,"batsoup":4,"biolab":12,"biowarfare":9,"chinamen":10,"chins":11,"coronovirus":4,"gedmatch":1,"gweilo":2,"heinsberg":6,"huanan":3,"kungflu":4,"laowai":3,"qurantine":3,"reeducate":1,"tienanmen":1,"viruss":3,"waspjew":3,"westerdam":8},
{"date":"2020-02-19","antitank":2,"baizuo":2,"batsoup":4,"biolab":10,"biowarfare":8,"chinamen":10,"chins":10,"coronovirus":4,"gedmatch":1,"gweilo":2,"heinsberg":6,"huanan":3,"kungflu":4,"laowai":3,"qurantine":2,"reeducate":1,"tienanmen":1,"viruss":3,"waspjew":3,"westerdam":5},
{"date":"2020-02-20","antitank":2,"baizuo":3,"batsoup":5,"biolab":14,"biowarfare":10,"chinamen":12,"chins":12,"coronovirus":5,"gedmatch":1,"gweilo":2,"heinsberg":8,"huanan":3,"kungflu":5,"laowai":4,"qurantine":3,"reeducate":1,"tienanmen":1,"viruss":4,"waspjew":3,"westerdam":12},
{"date":"2020-02-21","antitank":3,"baizuo":3,"batsoup":6,"biolab":18,"biowarfare":12,"chinamen":14,"chins":14,"coronovirus":5,"gedmatch":1,"gweilo":3,"heinsberg":10,"huanan":4,"kungflu":6,"laowai":5,"qurantine":3,"reeducate":1,"tienanmen":2,"viruss":5,"waspjew":4,"westerdam":20},
{"date":"2020-02-22","antitank":2,"baizuo":2,"batsoup":4,"biolab":10,"biowarfare":8,"chinamen":10,"chins":10,"coronovirus":4,"gedmatch":1,"gweilo":2,"heinsberg":8,"huanan":3,"kungflu":4,"laowai":3,"qurantine":2,"reeducate":1,"tienanmen":1,"viruss":3,"waspjew":3,"westerdam":6},
{"date":"2020-02-23","antitank":2,"baizuo":2,"batsoup":3,"biolab":9,"biowarfare":7,"chinamen":9,"chins":9,"coronovirus":3,"gedmatch":1,"gweilo":2,"heinsberg":8,"huanan":2,"kungflu":4,"laowai":3,"qurantine":2,"reeducate":1,"tienanmen":1,"viruss":3,"waspjew":2,"westerdam":3},
{"date":"2020-02-24","antitank":2,"baizuo":2,"batsoup":4,"biolab":9,"biowarfare":8,"chinamen":9,"chins":9,"coronovirus":4,"gedmatch":1,"gweilo":2,"heinsberg":10,"huanan":3,"kungflu":4,"laowai":3,"qurantine":2,"reeducate":1,"tienanmen":1,"viruss":3,"waspjew":2,"westerdam":2},
{"date":"2020-02-25","antitank":2,"baizuo":2,"batsoup":4,"biolab":10,"biowarfare":8,"chinamen":9,"chins":9,"coronovirus":4,"gedmatch":1,"gweilo":2,"heinsberg":12,"huanan":3,"kungflu":4,"laowai":3,"qurantine":2,"reeducate":1,"tienanmen":1,"viruss":3,"waspjew":2,"westerdam":2},
{"date":"2020-02-26","antitank":2,"baizuo":3,"batsoup":5,"biolab":12,"biowarfare":9,"chinamen":10,"chins":10,"coronovirus":4,"gedmatch":1,"gweilo":2,"heinsberg":15,"huanan":3,"kungflu":5,"laowai":3,"qurantine":2,"reeducate":1,"tienanmen":1,"viruss":3,"waspjew":3,"westerdam":2},
{"date":"2020-02-27","antitank":2,"baizuo":3,"batsoup":5,"biolab":13,"biowarfare":10,"chinamen":11,"chins":10,"coronovirus":4,"gedmatch":1,"gweilo":2,"heinsberg":18,"huanan":3,"kungflu":5,"laowai":4,"qurantine":2,"reeducate":1,"tienanmen":1,"viruss":3,"waspjew":3,"westerdam":2},
{"date":"2020-02-28","antitank":2,"baizuo":3,"batsoup":5,"biolab":12,"biowarfare":9,"chinamen":10,"chins":10,"coronovirus":4,"gedmatch":1,"gweilo":2,"heinsberg":18,"huanan":3,"kungflu":5,"laowai":4,"qurantine":2,"reeducate":1,"tienanmen":1,"viruss":3,"waspjew":3,"westerdam":2},
{"date":"2020-02-29","antitank":2,"baizuo":2,"batsoup":4,"biolab":11,"biowarfare":9,"chinamen":10,"chins":10,"coronovirus":4,"gedmatch":1,"gweilo":2,"heinsberg":16,"huanan":3,"kungflu":5,"laowai":3,"qurantine":2,"reeducate":1,"tienanmen":1,"viruss":3,"waspjew":3,"westerdam":2},
{"date":"2020-03-01","antitank":2,"baizuo":2,"batsoup":4,"biolab":11,"biowarfare":9,"chinamen":10,"chins":9,"coronovirus":4,"gedmatch":1,"gweilo":2,"heinsberg":16,"huanan":3,"kungflu":4,"laowai":3,"qurantine":2,"reeducate":1,"tienanmen":1,"viruss":3,"waspjew":2,"westerdam":2},
{"date":"2020-03-02","antitank":2,"baizuo":2,"batsoup":4,"biolab":10,"biowarfare":8,"chinamen":9,"chins":9,"coronovirus":3,"gedmatch":1,"gweilo":2,"heinsberg":15,"huanan":3,"kungflu":4,"laowai":3,"qurantine":2,"reeducate":1,"tienanmen":1,"viruss":3,"waspjew":2,"westerdam":2},
{"date":"2020-03-03","antitank":2,"baizuo":2,"batsoup":4,"biolab":10,"biowarfare":8,"chinamen":9,"chins":9,"coronovirus":3,"gedmatch":1,"gweilo":2,"heinsberg":14,"huanan":2,"kungflu":4,"laowai":3,"qurantine":2,"reeducate":1,"tienanmen":1,"viruss":3,"waspjew":2,"westerdam":2},
{"date":"2020-03-04","antitank":2,"baizuo":2,"batsoup":4,"biolab":10,"biowarfare":8,"chinamen":9,"chins":10,"coronovirus":3,"gedmatch":1,"gweilo":2,"heinsberg":14,"huanan":2,"kungflu":4,"laowai":3,"qurantine":2,"reeducate":1,"tienanmen":1,"viruss":3,"waspjew":2,"westerdam":2},
{"date":"2020-03-05","antitank":2,"baizuo":2,"batsoup":4,"biolab":8,"biowarfare":8,"chinamen":9,"chins":8,"coronovirus":3,"gedmatch":1,"gweilo":2,"heinsberg":13,"huanan":2,"kungflu":4,"laowai":3,"qurantine":2,"reeducate":1,"tienanmen":1,"viruss":3,"waspjew":2,"westerdam":2},
{"date":"2020-03-06","antitank":2,"baizuo":2,"batsoup":4,"biolab":10,"biowarfare":8,"chinamen":9,"chins":9,"coronovirus":3,"gedmatch":1,"gweilo":2,"heinsberg":13,"huanan":2,"kungflu":4,"laowai":3,"qurantine":2,"reeducate":1,"tienanmen":1,"viruss":3,"waspjew":2,"westerdam":2},
{"date":"2020-03-07","antitank":2,"baizuo":2,"batsoup":4,"biolab":10,"biowarfare":9,"chinamen":10,"chins":9,"coronovirus":4,"gedmatch":1,"gweilo":2,"heinsberg":14,"huanan":3,"kungflu":5,"laowai":3,"qurantine":2,"reeducate":1,"tienanmen":1,"viruss":3,"waspjew":3,"westerdam":2},
{"date":"2020-03-08","antitank":2,"baizuo":3,"batsoup":4,"biolab":11,"biowarfare":9,"chinamen":10,"chins":10,"coronovirus":4,"gedmatch":1,"gweilo":2,"heinsberg":14,"huanan":3,"kungflu":5,"laowai":3,"qurantine":2,"reeducate":1,"tienanmen":1,"viruss":3,"waspjew":3,"westerdam":2},
{"date":"2020-03-09","antitank":3,"baizuo":3,"batsoup":5,"biolab":16,"biowarfare":11,"chinamen":12,"chins":12,"coronovirus":5,"gedmatch":1,"gweilo":3,"heinsberg":16,"huanan":3,"kungflu":6,"laowai":4,"qurantine":3,"reeducate":1,"tienanmen":2,"viruss":4,"waspjew":4,"westerdam":3},
{"date":"2020-03-10","antitank":2,"baizuo":3,"batsoup":5,"biolab":14,"biowarfare":10,"chinamen":11,"chins":11,"coronovirus":4,"gedmatch":1,"gweilo":2,"heinsberg":15,"huanan":3,"kungflu":6,"laowai":4,"qurantine":3,"reeducate":1,"tienanmen":2,"viruss":4,"waspjew":4,"westerdam":2},
{"date":"2020-03-11","antitank":3,"baizuo":4,"batsoup":7,"biolab":22,"biowarfare":12,"chinamen":14,"chins":13,"coronovirus":5,"gedmatch":2,"gweilo":3,"heinsberg":18,"huanan":4,"kungflu":8,"laowai":6,"qurantine":4,"reeducate":2,"tienanmen":2,"viruss":6,"waspjew":5,"westerdam":3},
{"date":"2020-03-12","antitank":4,"baizuo":5,"batsoup":10,"biolab":30,"biowarfare":14,"chinamen":16,"chins":14,"coronovirus":6,"gedmatch":2,"gweilo":3,"heinsberg":20,"huanan":4,"kungflu":10,"laowai":8,"qurantine":6,"reeducate":2,"tienanmen":3,"viruss":8,"waspjew":6,"westerdam":4},
{"date":"2020-03-13","antitank":4,"baizuo":6,"batsoup":12,"biolab":34,"biowarfare":15,"chinamen":16,"chins":15,"coronovirus":6,"gedmatch":2,"gweilo":3,"heinsberg":20,"huanan":4,"kungflu":10,"laowai":8,"qurantine":6,"reeducate":2,"tienanmen":3,"viruss":8,"waspjew":7,"westerdam":4},
{"date":"2020-03-14","antitank":3,"baizuo":4,"batsoup":8,"biolab":24,"biowarfare":12,"chinamen":14,"chins":13,"coronovirus":5,"gedmatch":2,"gweilo":3,"heinsberg":16,"huanan":4,"kungflu":8,"laowai":6,"qurantine":4,"reeducate":2,"tienanmen":2,"viruss":6,"waspjew":5,"westerdam":3},
{"date":"2020-03-15","antitank":2,"baizuo":2,"batsoup":3,"biolab":8,"biowarfare":6,"chinamen":7,"chins":7,"coronovirus":3,"gedmatch":1,"gweilo":1,"heinsberg":6,"huanan":2,"kungflu":3,"laowai":2,"qurantine":2,"reeducate":1,"tienanmen":1,"viruss":2,"waspjew":2,"westerdam":1},
{"date":"2020-03-16","antitank":1,"baizuo":1,"batsoup":1,"biolab":3,"biowarfare":3,"chinamen":3,"chins":4,"coronovirus":1,"gedmatch":0,"gweilo":1,"heinsberg":2,"huanan":1,"kungflu":1,"laowai":1,"qurantine":1,"reeducate":0,"tienanmen":0,"viruss":1,"waspjew":1,"westerdam":1}
]},
"transform":[{"fold":["antitank","baizuo","batsoup","biolab","biowarfare","chinamen","chins","coronovirus","gedmatch","gweilo","heinsberg","huanan","kungflu","laowai","qurantine","reeducate","tienanmen","viruss","waspjew","westerdam"],"as":["term","count"]}],
"mark":{"type":"area"},
"encoding":{
"x":{"field":"date","type":"temporal","scale":{"type":"utc"},"title":"Date","axis":{"format":"%Y-%m-%d","tickCount":{"interval":"month","step":1}}},
"y":{"field":"count","type":"quantitative","stack":"center","title":"#Posts","axis":{"tickCount":12}},
"color":{"field":"term","type":"nominal","scale":{"scheme":"category20b"},"legend":{"title":null}}
},
"config":{
"axis":{"labelFontSize":8,"titleFontSize":8.5,"tickSize":3,"labelPadding":2,"titlePadding":4},
"legend":{"labelFontSize":8,"symbolSize":60,"offset":20,"rowPadding":1,"symbolType":"circle"}
}
}
